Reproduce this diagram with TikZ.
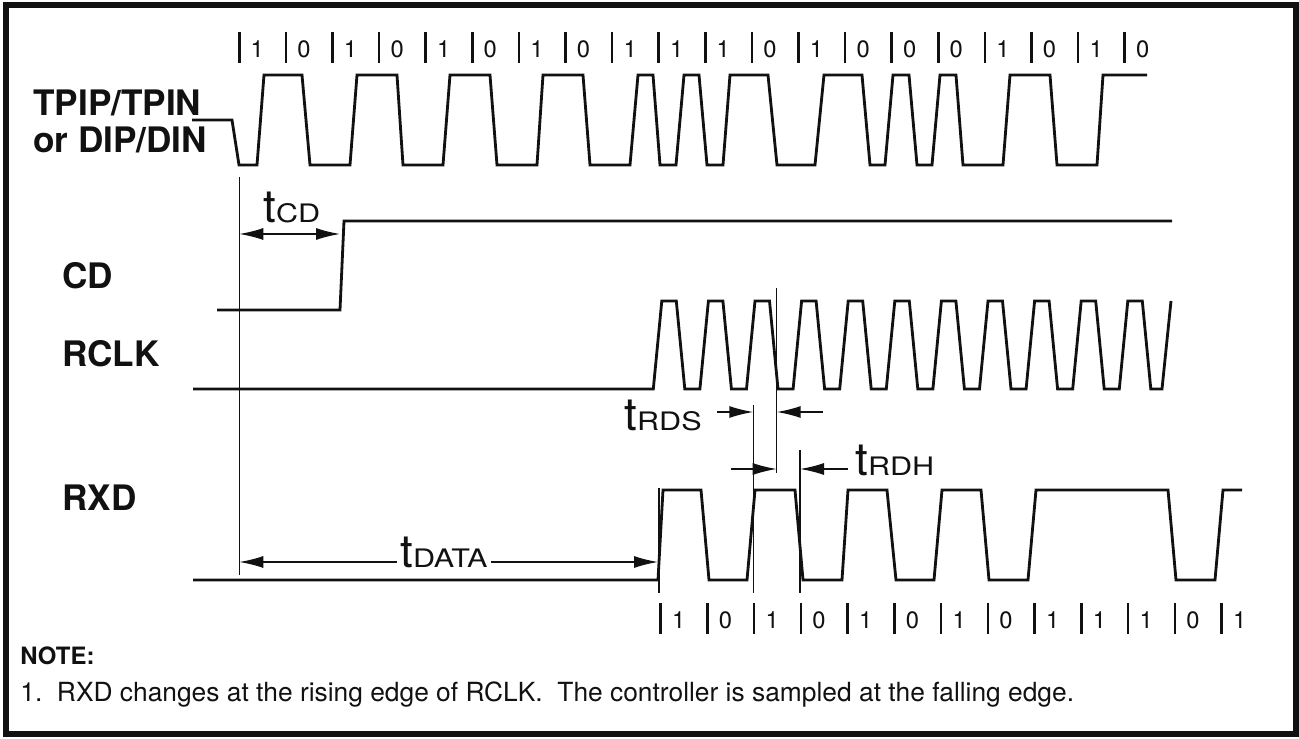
\documentclass[tikz,border=0pt]{standalone}
\usepackage{fontspec}
\setmainfont{TeX Gyre Heros}
\newfontfamily\widesans[FakeStretch=1.2]{TeX Gyre Heros}
\usetikzlibrary{arrows.meta}
\definecolor{traceink}{HTML}{111111}

\newcommand{\tname}[1]{{\fontsize{26}{26}\selectfont t}{\widesans\fontsize{14.5}{15}\selectfont #1}}

\begin{document}
\begin{tikzpicture}[x=0.02cm, y=-0.02cm, >={Latex[length=4.8mm,width=2.4mm]},
    wave/.style={traceink, line width=1.6pt, line join=miter},
    guide/.style={traceink, line width=0.8pt},
    bittick/.style={traceink, line width=1.4pt},
    bit/.style={traceink, font=\fontsize{13.5}{13.5}\selectfont, anchor=base, inner sep=0pt},
    sig/.style={traceink, font=\bfseries\fontsize{20}{21}\selectfont, anchor=base west, inner sep=0pt, align=left},
    tlbl/.style={traceink, anchor=base west, inner sep=0pt}]

  %% frame
  \useasboundingbox (0,0) rectangle (1299,739);
  \draw[traceink, line width=2.9pt] (6,5) rectangle (1296,734);

  %% signal names
  \node[sig, anchor=west] (tpip) at (33,121.5) {TPIP/TPIN\\or DIP/DIN};
  \node[sig] (cd) at (62,289) {CD};
  \node[sig] (rclk) at (62,367) {RCLK};
  \node[sig] (rxd) at (62,511) {RXD};

  %% bit cells on the line
  \foreach \b [count=\k from 0] in {1,0,1,0,1,0,1,0,1,1,1,0,1,0,0,0,1,0,1,0} {
    \draw[bittick] ({239.3+46.6*\k},32) -- ++(0,31);
    \node[bit] (top\k) at ({257.3+46.6*\k},58) {\b};
  }

  %% TPIP/TPIN or DIP/DIN
  \draw[wave] (192,120) -- (232,120) -- (239,165) -- (257,165)
    -- (264,75) -- (302,75) -- (310,165) -- (350,165)
    -- (357,75) -- (397,75) -- (403,165) -- (443,165)
    -- (450,75) -- (490,75) -- (497,165) -- (537,165)
    -- (543,75) -- (583,75) -- (590,165) -- (630,165)
    -- (638,75) -- (653,75) -- (660,165) -- (676,165)
    -- (684,75) -- (699,75) -- (707,165) -- (723,165)
    -- (730,75) -- (768,75) -- (777,165) -- (815,165)
    -- (824,75) -- (862,75) -- (870,165) -- (885,165)
    -- (893,75) -- (909,75) -- (917,165) -- (932,165)
    -- (940,75) -- (956,75) -- (963,165) -- (1003,165)
    -- (1010,75) -- (1050,75) -- (1057,165) -- (1097,165)
    -- (1103,75) -- (1147,75);

  %% CD
  \draw[wave] (217,310) -- (340,310) -- (344,221) -- (1172,221);

  %% RCLK
  \draw[wave] (193,389) foreach \i in {0,...,10} {
      -- ({653.3+46.6*\i},389) -- ({661.8+46.6*\i},301)
      -- ({676.3+46.6*\i},301) -- ({684.8+46.6*\i},389) }
    -- (1162,389) -- (1171,301);

  %% RXD
  \draw[wave] (193,580) -- (658,580) -- (663,490) -- (701,490)
    -- (709,580) -- (747,580) -- (755,490) -- (795,490)
    -- (803,580) -- (842,580) -- (848,490) -- (887,490)
    -- (896,580) -- (934,580) -- (942,490) -- (981,490)
    -- (989,580) -- (1028,580) -- (1036,490) -- (1168,490)
    -- (1176,580) -- (1215,580) -- (1223,490) -- (1242,490);

  %% bit cells at RXD
  \foreach \b [count=\k from 0] in {1,0,1,0,1,0,1,0,1,1,1,0,1} {
    \draw[bittick] ({660.7+46.75*\k},603) -- ++(0,31);
    \node[bit] (bot\k) at ({678.7+46.75*\k},629) {\b};
  }

  %% edge guides
  \coordinate (lineup) at (239.3,177);
  \coordinate (linedn) at (239.3,575);
  \coordinate (fallup) at (776.7,288);
  \coordinate (falldn) at (776.7,473);
  \coordinate (riseup) at (753.3,405);
  \coordinate (risedn) at (753.3,593);
  \coordinate (chgup) at (800,450);
  \coordinate (chgdn) at (800,593);
  \coordinate (firstup) at (659,488);
  \coordinate (firstdn) at (659,593);
  \draw[guide] (lineup) -- (linedn);
  \draw[guide] (fallup) -- (falldn);
  \draw[guide] (riseup) -- (risedn);
  \draw[guide] (chgup) -- (chgdn);
  \draw[guide] (firstup) -- (firstdn);

  %% tCD
  \coordinate (cdA) at (239.3,234);
  \coordinate (cdB) at (340,234);
  \draw[guide, <->] (cdA) -- (cdB);
  \node[tlbl] (tcd) at (263,223) {\tname{CD}};

  %% tDATA
  \coordinate (dataA) at (239.3,562);
  \coordinate (dataB) at (658,562);
  \draw[guide, <->] (dataA) -- (dataB);
  \node[tlbl, anchor=base, fill=white, inner xsep=2pt] (tdata) at (444,568) {\tname{DATA}};

  %% tRDS
  \coordinate (rdsL) at (717,412);
  \coordinate (rdsA) at (753.3,412);
  \coordinate (rdsB) at (776.7,412);
  \coordinate (rdsR) at (822.7,412);
  \draw[guide, ->] (rdsL) -- (rdsA);
  \draw[guide, ->] (rdsR) -- (rdsB);
  \node[tlbl, anchor=base east] (trds) at (702,431) {\tname{RDS}};

  %% tRDH
  \coordinate (rdhL) at (730.7,469);
  \coordinate (rdhA) at (776.7,469);
  \coordinate (rdhB) at (800,469);
  \coordinate (rdhR) at (848.3,469);
  \draw[guide, ->] (rdhL) -- (rdhA);
  \draw[guide, ->] (rdhR) -- (rdhB);
  \node[tlbl] (trdh) at (855,476) {\tname{RDH}};

  %% note
  \node[tlbl, font=\bfseries\fontsize{13.6}{14}\selectfont] (note) at (20,665) {NOTE:};
  \node[tlbl, font=\fontsize{15}{15}\selectfont] (notetext) at (20,702)
    {1.\ \ RXD changes at the rising edge of RCLK.\ \ The controller is sampled at the falling edge.};

\end{tikzpicture}
\end{document}
